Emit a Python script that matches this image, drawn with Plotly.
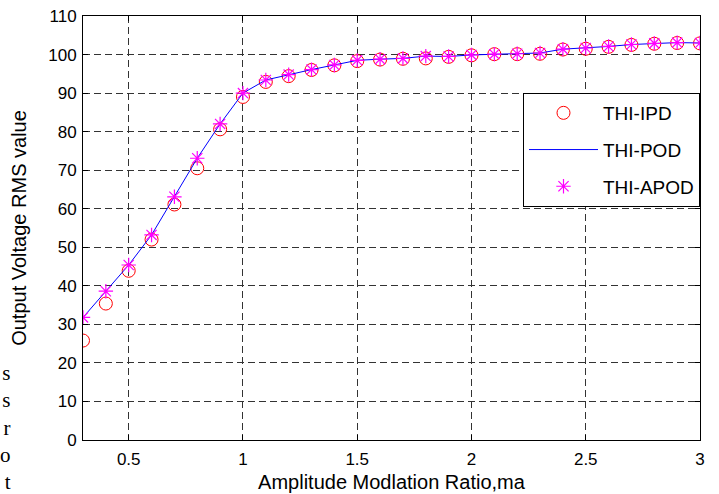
import plotly.graph_objects as go

# Amplitude modulation ratio sweep
ma = [0.3, 0.4, 0.5, 0.6, 0.7, 0.8, 0.9, 1.0, 1.1, 1.2, 1.3, 1.4, 1.5, 1.6,
      1.7, 1.8, 1.9, 2.0, 2.1, 2.2, 2.3, 2.4, 2.5, 2.6, 2.7, 2.8, 2.9, 3.0]

# Output voltage RMS value for each modulation scheme
thi_ipd = [25.8, 35.4, 43.9, 52.0, 61.1, 70.5, 80.6, 89.0, 92.9, 94.4, 96.0,
           97.2, 98.3, 98.7, 98.9, 99.0, 99.4, 99.8, 100.1, 100.1, 100.2,
           101.3, 101.5, 102.0, 102.5, 102.8, 103.0, 102.9]
thi_pod = [31.8, 38.6, 45.4, 53.2, 63.1, 73.1, 82.0, 90.0, 93.4, 94.8, 96.1,
           97.3, 98.5, 98.8, 99.0, 99.6, 99.5, 99.9, 100.1, 100.2, 100.4,
           101.4, 101.7, 102.1, 102.6, 102.9, 103.1, 103.0]
thi_apod = [31.8, 38.6, 45.4, 53.2, 63.1, 73.1, 82.0, 90.0, 93.4, 94.8, 96.1,
            97.3, 98.5, 98.8, 99.0, 99.6, 99.5, 99.9, 100.1, 100.2, 100.4,
            101.4, 101.7, 102.1, 102.6, 102.9, 103.1, 103.0]

x_ticks = [0.5, 1, 1.5, 2, 2.5, 3]
x_tick_text = ["0.5", "1", "1.5", "2", "2.5", "3"]
y_ticks = list(range(0, 111, 10))

# Fragments of the neighbouring text column at the left edge
side_letters = ["s", "s", "r", "o", "t"]

W, H = 719, 494
ML, MR, MT, MB = 83, 19, 16, 54
PW, PH = W - ML - MR, H - MT - MB

FONT = "Liberation Sans, Arial, sans-serif"

fig = go.Figure()
fig.add_trace(go.Scatter(
    x=ma, y=thi_ipd, name="THI-IPD", mode="markers", legendgroup="a",
    marker=dict(symbol="circle-open", size=13, color="#ff0000",
                line=dict(color="#ff0000", width=1)),
))
fig.add_trace(go.Scatter(
    x=ma, y=thi_pod, name="THI-POD", mode="lines", legendgroup="b",
    line=dict(color="#0000ff", width=1),
))
fig.add_trace(go.Scatter(
    x=ma, y=thi_apod, name="THI-APOD", mode="markers", legendgroup="c",
    marker=dict(symbol="asterisk-open", size=12, color="#ff00ff",
                line=dict(color="#ff00ff", width=1.2)),
))

axis_common = dict(
    showline=True, linecolor="black", linewidth=1, mirror="ticks",
    ticks="inside", ticklen=5, tickcolor="black",
    showgrid=True, gridcolor="#333333", gridwidth=1, griddash="7px,4px",
    zeroline=False, automargin=False,
    tickfont=dict(family=FONT, size=17, color="black"),
)

fig.update_xaxes(
    range=[0.3, 3], tickvals=x_ticks, ticktext=x_tick_text,
    ticklabelstandoff=4,
    title=dict(text="Amplitude Modlation Ratio,ma", standoff=6,
               font=dict(family=FONT, size=20, color="black")),
    **axis_common,
)
fig.update_yaxes(
    range=[0, 110], tickvals=y_ticks,
    ticklabelstandoff=2,
    title=dict(text="Output Voltage RMS value", standoff=16,
               font=dict(family=FONT, size=20, color="black")),
    **axis_common,
)

# The letter column, one letter per line
fig.add_annotation(
    text="<br>".join(side_letters), xref="paper", yref="paper",
    x=(13 - ML) / PW, y=(H - MB - 359) / PH,
    xanchor="right", yanchor="top", align="right", showarrow=False,
    font=dict(family="Liberation Serif, Times New Roman, serif",
              size=21, color="black"),
)

fig.update_layout(
    width=W, height=H,
    margin=dict(l=ML, r=MR, t=MT, b=MB, pad=0, autoexpand=False),
    paper_bgcolor="white", plot_bgcolor="white",
    font=dict(family=FONT, color="black"),
    legend=dict(
        x=(700 - ML) / PW, y=(H - MB - 93) / PH,
        xanchor="right", yanchor="top",
        bgcolor="white", bordercolor="black", borderwidth=1,
        font=dict(family=FONT, size=19, color="black"),
        tracegroupgap=9, itemwidth=69, traceorder="grouped",
    ),
)

fig.write_html("out.html")
